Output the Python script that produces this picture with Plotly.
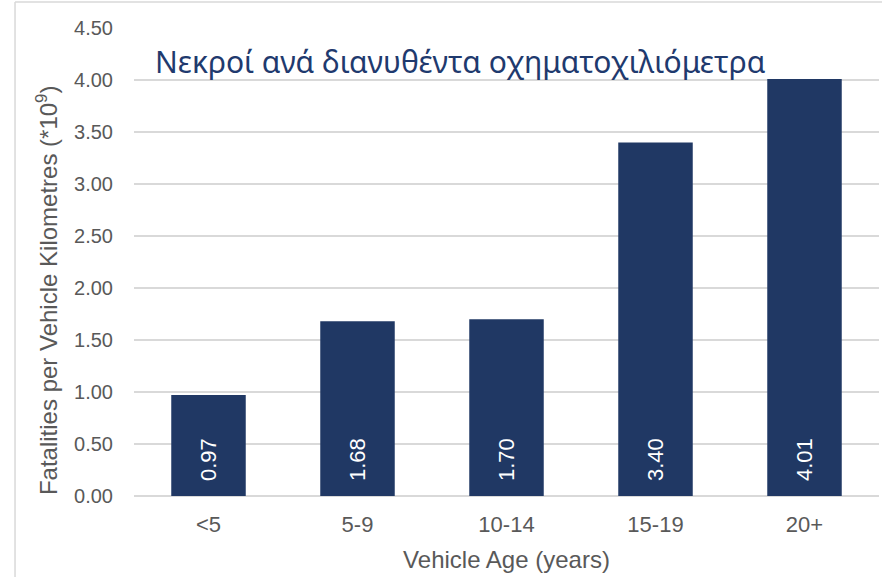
import plotly.graph_objects as go

categories = ["<5", "5-9", "10-14", "15-19", "20+"]
values = [0.97, 1.68, 1.70, 3.40, 4.01]
labels = ["0.97", "1.68", "1.70", "3.40", "4.01"]
y_ticks = [0, 0.5, 1.0, 1.5, 2.0, 2.5, 3.0, 3.5, 4.0, 4.5]

BAR = "#203864"
GRAY = "#595959"
GRID = "#D9D9D9"

fig = go.Figure()
fig.add_trace(go.Bar(x=categories, y=values, marker=dict(color=BAR, line=dict(width=0)),
                     hoverinfo="x+y"))

for c, lab in zip(categories, labels):
    fig.add_annotation(x=c, y=0, text=lab, textangle=-90, showarrow=False,
                       yanchor="bottom", yshift=13,
                       font=dict(family="Liberation Sans, Arial", size=22, color="white"))

fig.add_annotation(xref="paper", yref="paper", x=0.026, y=0.928, xanchor="left", yanchor="middle",
                   text="Νεκροί ανά διανυθέντα οχηματοχιλιόμετρα", showarrow=False,
                   font=dict(family="Noto Sans", size=30, color="#1F3A6E"))

# y axis title (placed as in the reference, slightly below the plot centre)
fig.add_annotation(xref="paper", yref="paper", x=-0.1168, y=0.44, xanchor="center", yanchor="middle",
                   text="Fatalities per Vehicle Kilometres (*10<sup>9</sup>)", textangle=-90,
                   showarrow=False, font=dict(family="Liberation Sans, Arial", size=24, color=GRAY))

# frame lines of the chart area
fig.add_shape(type="line", xref="paper", yref="paper", x0=-0.1597, x1=1.01, y0=1.0556, y1=1.0556,
              line=dict(color=GRID, width=1.5))
fig.add_shape(type="line", xref="paper", yref="paper", x0=-0.1597, x1=-0.1597, y0=1.0556, y1=-0.2,
              line=dict(color=GRID, width=1.5))

fig.update_layout(
    width=882, height=577,
    margin=dict(l=134, r=3, t=28, b=81),
    paper_bgcolor="white", plot_bgcolor="white",
    bargap=0.5, showlegend=False,
    font=dict(family="Liberation Sans, Arial", color=GRAY),
    xaxis=dict(title=dict(text="Vehicle Age (years)", font=dict(size=24, color=GRAY), standoff=15),
               tickfont=dict(size=22, color=GRAY), showgrid=False, ticks="", showline=False,
               ticklabelstandoff=13),
    yaxis=dict(range=[0, 4.5], tickvals=y_ticks, tickformat=".2f",
               tickfont=dict(family="Liberation Sans, Arial", size=20, color=GRAY),
               gridcolor=GRID, gridwidth=1.5,
               zeroline=True, zerolinecolor=GRID, zerolinewidth=1.5, ticks="",
               ticklabelstandoff=20),
)

fig.write_html("out.html", config={"displayModeBar": False},
               post_script="document.body.style.margin='0';")
